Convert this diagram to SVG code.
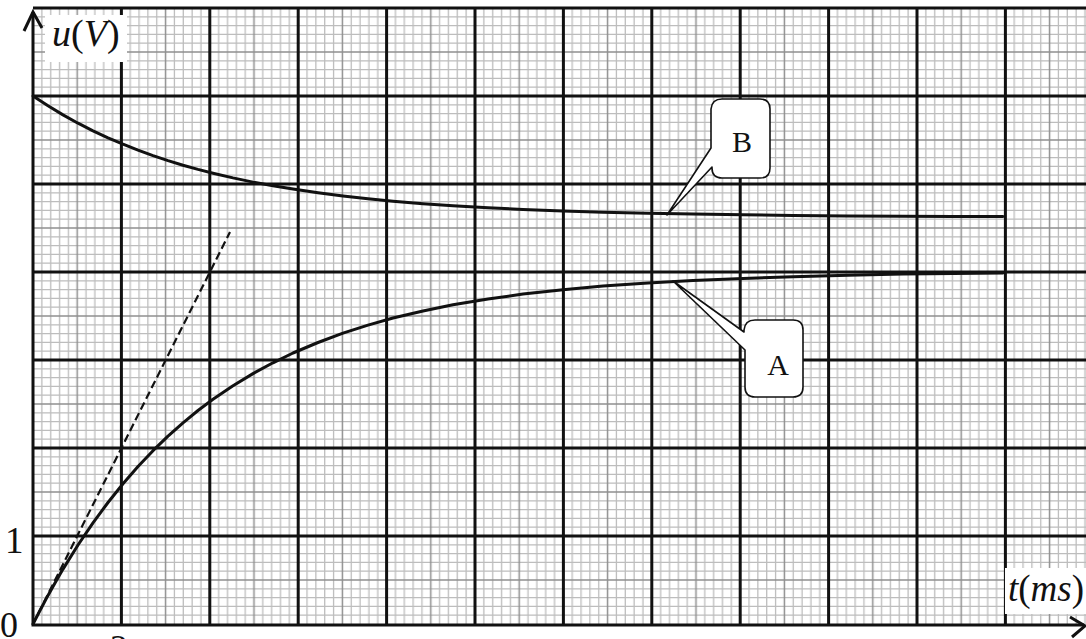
<svg xmlns="http://www.w3.org/2000/svg" width="1086" height="639" viewBox="0 0 1086 639">
<style>
.minor{stroke:#bdbdbd;stroke-width:1.3;fill:none}
.mid{stroke:#8f8f8f;stroke-width:1.5;fill:none}
.major{stroke:#111;stroke-width:3;fill:none}
.axis{stroke:#111;stroke-width:3;fill:none}
.curve{stroke:#111;stroke-width:3;fill:none;stroke-linejoin:round;stroke-linecap:round}
.tangent{stroke:#111;stroke-width:2.2;fill:none;stroke-dasharray:8 4}
.callout{fill:#fff;stroke:#111;stroke-width:1.6;stroke-linejoin:round}
.lbl{font-family:"Liberation Serif","Times New Roman",serif;fill:#111}
</style>
<defs>
<pattern id="grid" patternUnits="userSpaceOnUse" x="33" y="8" width="88.4" height="88">
<path class="minor" d="M8.84 0V88M17.68 0V88M26.52 0V88M35.36 0V88M53.04 0V88M61.88 0V88M70.72 0V88M79.56 0V88M0 8.8H88.4M0 17.6H88.4M0 26.4H88.4M0 35.2H88.4M0 52.8H88.4M0 61.6H88.4M0 70.4H88.4M0 79.2H88.4"/>
<path class="mid" d="M44.2 0V88M0 44H88.4"/>
</pattern>
</defs>
<rect width="1086" height="639" fill="#fff"/>
<g id="grid-paper">
<rect x="33" y="8" width="1053" height="616" fill="url(#grid)"/>
<path class="major" d="M121.4 8V624M209.8 8V624M298.2 8V624M386.6 8V624M475 8V624M563.4 8V624M651.8 8V624M740.2 8V624M828.6 8V624M917 8V624M1005.4 8V624M33 8H1086M33 96H1086M33 184H1086M33 272H1086M33 360H1086M33 448H1086M33 536H1086"/>
</g>
<g id="axes">
<path class="axis" d="M33 12V625H1084"/>
<path class="axis" d="M24 31L33 12L42 28" stroke-width="2.5"/>
<path class="axis" d="M1070 617L1085 626L1072 637" stroke-width="2.5"/>
</g>
<g id="axis-labels">
<rect x="45" y="15" width="82" height="47" fill="#fff"/>
<text class="lbl" x="52" y="46" font-size="38"><tspan font-style="italic">u</tspan><tspan>(</tspan><tspan font-style="italic">V</tspan><tspan>)</tspan></text>
<rect x="1005" y="568" width="81" height="46" fill="#fff"/>
<text class="lbl" x="1008" y="601" font-size="37"><tspan font-style="italic">t</tspan><tspan>(</tspan><tspan font-style="italic">ms</tspan><tspan>)</tspan></text>
<text class="lbl" x="5" y="553" font-size="37">1</text>
<text class="lbl" x="0" y="637" font-size="36">0</text>
<text class="lbl" x="119" y="660" font-size="36" text-anchor="middle">2</text>
</g>
<g id="connectors">
<path class="tangent" d="M33 624L230 232"/>
<polyline id="curve-A" class="curve" points="33,624 40,610.5 48,595.4 55,583 63,569.1 78,545 93,522.8 108,502.5 123,483.7 138,466.5 153,450.7 168,436.2 183,422.8 198,410.5 213,399.3 233,385.8 253,373.6 273,362.8 293,353 318,342.5 343,333.1 368,325.1 393,318 423,311 453,304.8 488,299 523,294.1 563,289.8 603,286.1 648,283 693,280.4 743,278.4 793,276.8 848,275.2 903,274.1 953,273.4 1003,273"/>
<polyline id="curve-B" class="curve" points="33,96 48,105.8 63,114.9 78,123.2 93,130.8 108,137.8 123,144.2 138,150.1 153,155.6 168,160.6 183,165.2 198,169.4 213,173.2 233,177.9 253,182.1 273,185.8 293,189.1 318,192.8 343,196 368,198.8 393,201.2 423,203.7 453,205.7 488,207.7 523,209.4 563,210.9 603,212.2 648,213.3 693,214.1 743,214.8 793,215.4 848,215.9 903,216.2 953,216.4 1003,216.6"/>
</g>
<g id="callout-B">
<path class="callout" d="M722 99H760Q770 99 770 109V168Q770 178 760 178H722Q712 178 712 168V167L667 215L711 148V109Q712 99 722 99Z"/>
<text class="lbl" x="742" y="152" font-size="30" text-anchor="middle">B</text>
</g>
<g id="callout-A">
<path class="callout" d="M755 320H793Q803 320 803 330V387Q803 397 793 397H755Q745 397 745 387V350L673 281L744 332V330Q745 320 755 320Z"/>
<text class="lbl" x="778" y="375" font-size="30" text-anchor="middle">A</text>
</g>
</svg>
